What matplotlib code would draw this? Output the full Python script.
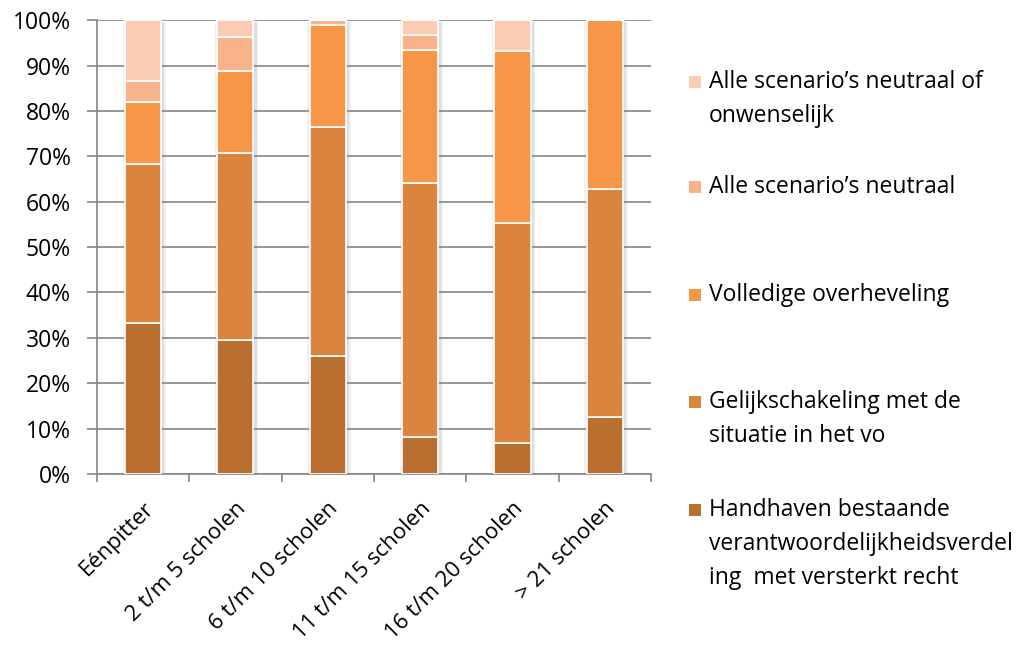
#!/usr/bin/env python3
"""Stacked 100% bar chart: preferred scenario by number of schools."""

import matplotlib

matplotlib.use("Agg")
import matplotlib.pyplot as plt
import numpy as np
from matplotlib.patches import Rectangle

plt.rcParams["font.family"] = ["Open Sans", "DejaVu Sans"]

CATEGORIES = ["Eénpitter", "2 t/m 5 scholen", "6 t/m 10 scholen",
              "11 t/m 15 scholen", "16 t/m 20 scholen", "> 21 scholen"]

HANDHAVEN = [33.3, 29.5, 26.1, 8.1, 6.9, 12.5]
GELIJK = [35.1, 41.3, 50.3, 56.1, 48.4, 50.3]
VOLLEDIG = [13.5, 17.9, 22.5, 29.3, 37.9, 37.2]
NEUTRAAL = [4.7, 7.6, 1.1, 3.3, 0.0, 0.0]
ONWENSELIJK = [13.4, 3.7, 0.0, 3.2, 6.8, 0.0]

SERIES_LABELS = [
    "Handhaven bestaande\nverantwoordelijkheidsverdel\ning  met versterkt recht",
    "Gelijkschakeling met de\nsituatie in het vo",
    "Volledige overheveling",
    "Alle scenario’s neutraal",
    "Alle scenario’s neutraal of\nonwenselijk",
]
SERIES = [HANDHAVEN, GELIJK, VOLLEDIG, NEUTRAAL, ONWENSELIJK]
COLORS = ["#B96F30", "#DB843D", "#F79646", "#F9B38A", "#FBCBB3"]

FS = 16.5

fig = plt.figure(figsize=(10.35, 6.5), dpi=100, facecolor="white")
ax = fig.add_axes([0.0937, 0.2708, 0.5353, 0.6982])

x = np.arange(len(CATEGORIES))
width = 0.39
totals = np.zeros(len(CATEGORIES))
stack_tops = np.sum(SERIES, axis=0)

# soft drop shadow behind each column
for off, alpha in ((0.04, 0.10), (0.022, 0.16)):
    ax.bar(x + 0.012, stack_tops + 0.4, width=width + 2 * off, bottom=-0.9,
           color="#7f7f7f", alpha=alpha, linewidth=0, zorder=2)

for values, color in zip(SERIES, COLORS):
    ax.bar(x, values, width=width, bottom=totals, color=color,
           edgecolor="white", linewidth=1.2, zorder=3)
    totals += np.asarray(values)

ax.set_xlim(-0.5, len(CATEGORIES) - 0.5)
ax.set_ylim(0, 100)
ax.set_yticks(np.arange(0, 101, 10))
ax.set_yticklabels([f"{v}%" for v in range(0, 101, 10)], fontsize=FS)
ax.set_xticks(np.arange(-0.5, len(CATEGORIES) + 0.5, 1.0), minor=False)
ax.set_xticklabels([])
ax.set_xticks(x, minor=True)
ax.set_xticklabels(CATEGORIES, minor=True, rotation=45, ha="right",
                   rotation_mode="anchor", fontsize=16)
ax.tick_params(axis="x", which="minor", length=0, pad=17)
ax.tick_params(axis="x", which="major", length=6, direction="out",
               color="#868686", width=1.2)
ax.tick_params(axis="y", length=7, direction="out", color="#868686",
               width=1.2, pad=12)

ax.yaxis.grid(True, color="#868686", linewidth=1.2, zorder=0)
ax.set_axisbelow(True)
for side in ("top", "right"):
    ax.spines[side].set_visible(False)
for side in ("left", "bottom"):
    ax.spines[side].set_color("#868686")
    ax.spines[side].set_linewidth(1.2)

# legend drawn by hand, top entry first
legend_y = [82, 187, 295, 402, 510]
for idx, ypix in zip(range(4, -1, -1), legend_y):
    yf = 1 - ypix / 650
    fig.patches.append(Rectangle((689 / 1035, yf - 6 / 650), 12 / 1035, 12 / 650,
                                 transform=fig.transFigure,
                                 facecolor=COLORS[idx], edgecolor="none"))
    fig.text(709 / 1035, yf + 12 / 650, SERIES_LABELS[idx], fontsize=FS,
             va="top", ha="left", linespacing=1.55, color="black")

fig.savefig("out.png", facecolor="white")
